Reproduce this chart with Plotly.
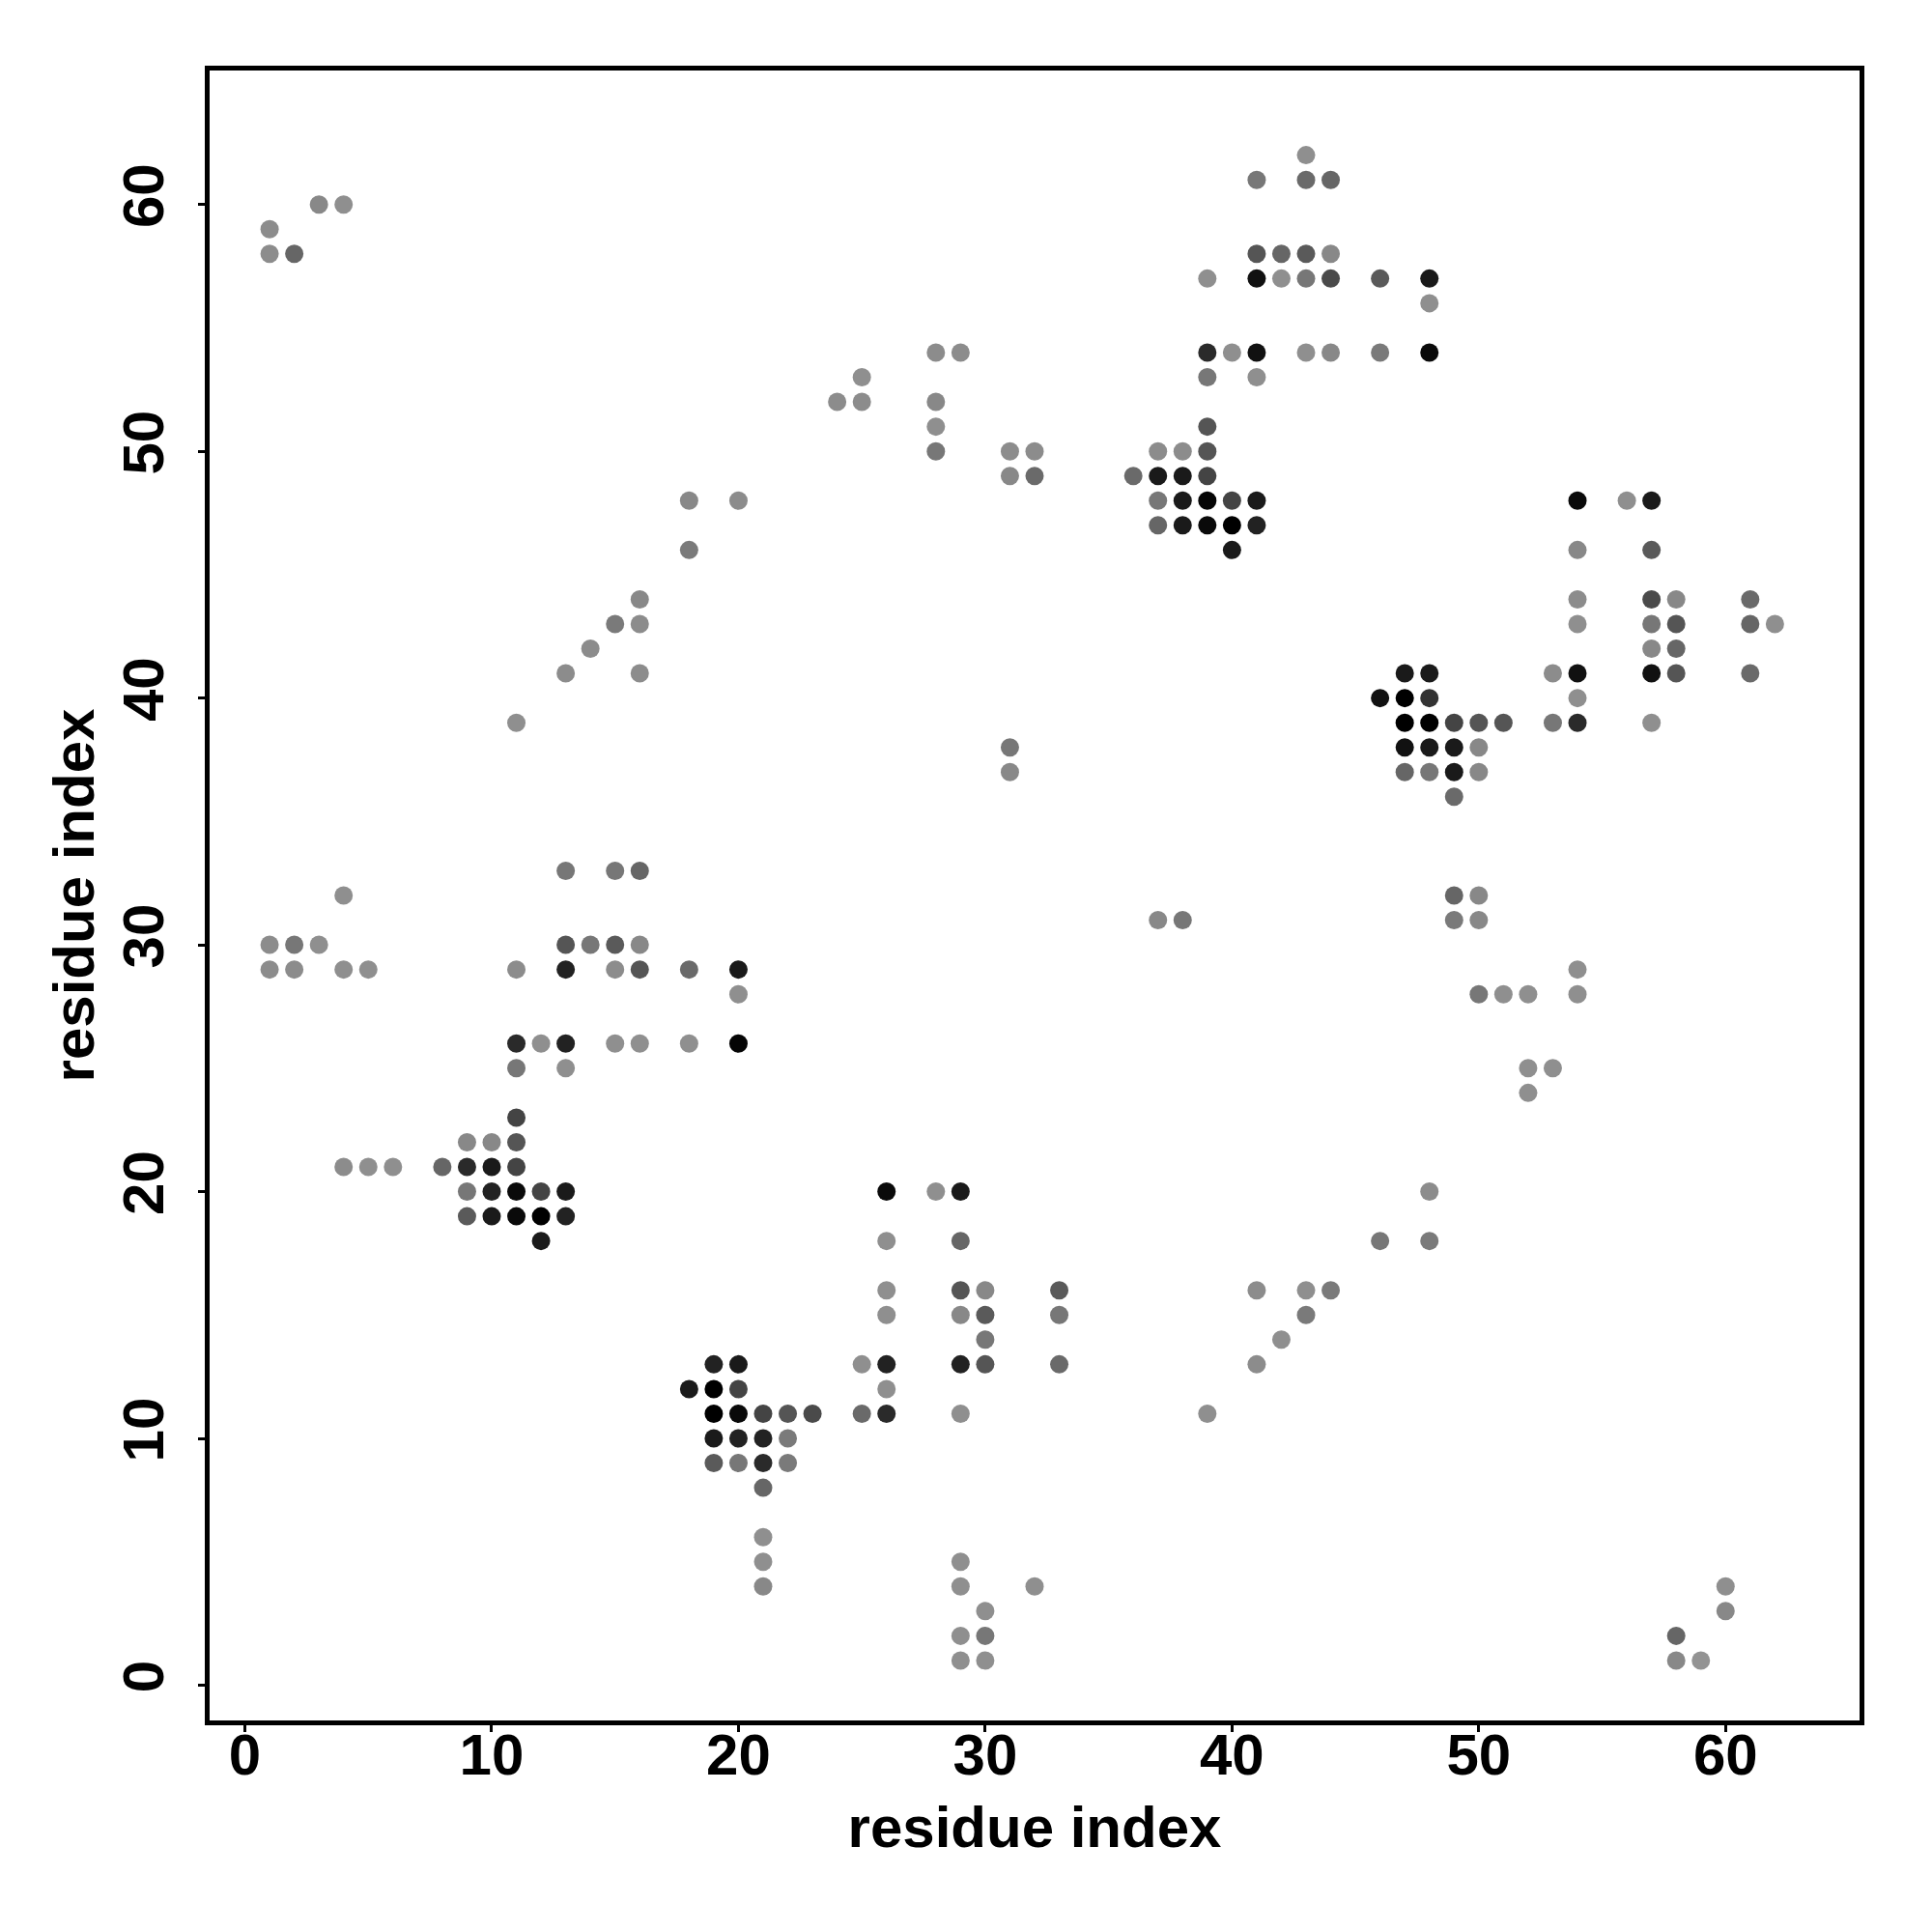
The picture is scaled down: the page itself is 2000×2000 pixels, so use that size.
import plotly.graph_objects as go

# residue contact map: (i, j) contact pairs and grey intensity (0 = black, 255 = white)
res_i = [
    1, 1, 2, 3, 4,
    18, 20, 18, 16, 15, 16, 14, 13, 16, 11,
    13, 15, 16, 4,
    1, 2, 3, 13, 14, 15, 16,
    1, 2, 4, 5, 11, 13, 15, 16, 18, 20,
    20,
    11, 12, 13, 15, 16, 18, 20,
    11, 13,
    11,
    9, 10, 11,
    4, 5, 6, 8, 9, 10, 11,
    9, 10, 11, 12, 13,
    9, 10, 11, 12, 13,
    12,
    19, 20,
    18, 19, 20,
    19, 20, 21, 22, 23, 25, 26, 29, 39,
    19, 20, 21, 22,
    19, 20, 21, 22,
    21,
    21, 21, 21,
    26, 28, 29,
    26, 29,
    26, 29, 30, 33, 41, 43, 44,
    26, 29, 30, 33, 43,
    30, 42,
    25, 26, 29, 30, 33, 41,
    26,
    29, 29, 32, 30, 29, 30, 29, 30,
    31, 31, 37, 38,
    46, 48, 48,
    60, 60, 58, 58, 59,
    43, 41, 43, 44,
    41, 42, 43, 44,
    39, 41, 42, 43, 44, 46, 48,
    48,
    39, 40, 41, 43, 44, 46, 48,
    39, 41,
    28, 29, 25, 24, 25, 28, 28, 39,
    28, 31, 32, 37, 38, 39,
    31, 32, 36, 37, 38, 39,
    37, 38, 39, 40, 41,
    37, 38, 39, 40, 41,
    40,
    54, 56, 57,
    54, 57,
    54, 57, 58, 61,
    54, 57, 58, 61, 62,
    57, 58,
    47, 48, 53, 54, 57, 58, 61,
    46, 47, 48, 54,
    47, 48, 49, 50, 51, 53, 54, 57,
    47, 48, 49, 50,
    47, 48, 49, 50,
    49,
    49, 50, 49, 50,
    54, 50, 51, 52, 54,
    52, 53, 52,
]

res_j = [
    59, 58, 58, 60, 60,
    48, 48, 46, 44, 43, 43, 42, 41, 41, 39,
    33, 33, 33, 32,
    30, 30, 30, 30, 30, 30, 30,
    29, 29, 29, 29, 29, 29, 29, 29, 29, 29,
    28,
    26, 26, 26, 26, 26, 26, 26,
    25, 25,
    23,
    22, 22, 22,
    21, 21, 21, 21, 21, 21, 21,
    20, 20, 20, 20, 20,
    19, 19, 19, 19, 19,
    18,
    13, 13,
    12, 12, 12,
    11, 11, 11, 11, 11, 11, 11, 11, 11,
    10, 10, 10, 10,
    9, 9, 9, 9,
    8,
    6, 5, 4,
    20, 20, 20,
    18, 18,
    16, 16, 16, 16, 16, 16, 16,
    15, 15, 15, 15, 15,
    14, 14,
    13, 13, 13, 13, 13, 13,
    12,
    5, 4, 4, 3, 2, 2, 1, 1,
    38, 37, 31, 31,
    18, 18, 20,
    4, 3, 2, 1, 1,
    62, 61, 61, 61,
    58, 58, 58, 58,
    57, 57, 57, 57, 57, 57, 57,
    56,
    54, 54, 54, 54, 54, 54, 54,
    53, 53,
    54, 54, 53, 52, 52, 52, 51, 51,
    50, 50, 50, 50, 50, 50,
    49, 49, 49, 49, 49, 49,
    48, 48, 48, 48, 48,
    47, 47, 47, 47, 47,
    46,
    48, 48, 48,
    46, 46,
    44, 44, 44, 44,
    43, 43, 43, 43, 43,
    42, 42,
    41, 41, 41, 41, 41, 41, 41,
    40, 40, 40, 40,
    39, 39, 39, 39, 39, 39, 39, 39,
    38, 38, 38, 38,
    37, 37, 37, 37,
    36,
    32, 32, 31, 31,
    29, 28, 28, 28, 28,
    25, 25, 24,
]

grey = [
    140, 140, 102, 136, 143,
    136, 140, 122, 136, 122, 140, 140, 140, 140, 143,
    119, 119, 102, 143,
    140, 119, 143, 85, 119, 90, 136,
    140, 140, 143, 143, 140, 34, 140, 85, 106, 26,
    143,
    42, 143, 34, 143, 143, 143, 5,
    119, 143,
    68,
    136, 136, 85,
    140, 143, 143, 102, 42, 26, 68,
    119, 34, 10, 68, 26,
    90, 26, 10, 0, 34,
    26,
    34, 26,
    26, 0, 68,
    0, 10, 68, 85, 74, 106, 42, 143, 143,
    26, 34, 34, 122,
    90, 119, 42, 122,
    102,
    143, 143, 136,
    10, 143, 26,
    143, 102,
    143, 85, 136, 90, 140, 143, 122,
    143, 136, 90, 119, 122,
    119, 143,
    143, 34, 34, 85, 106, 140,
    143,
    143, 143, 143, 143, 143, 119, 143, 143,
    119, 136, 136, 119,
    119, 122, 140,
    143, 136, 102, 136, 147,
    143, 119, 106, 102,
    85, 102, 90, 136,
    143, 17, 143, 119, 74, 90, 26,
    143,
    42, 143, 17, 143, 136, 122, 10,
    119, 143,
    140, 140, 143, 140, 140, 136, 143, 85,
    119, 140, 140, 140, 140, 85,
    136, 106, 106, 26, 26, 68,
    119, 26, 5, 68, 26,
    102, 26, 10, 0, 34,
    26,
    10, 143, 26,
    136, 90,
    140, 74, 136, 106,
    143, 119, 85, 102, 143,
    136, 102,
    26, 26, 140, 17, 17, 85, 106,
    17, 0, 51, 143,
    0, 0, 68, 85, 85, 119, 42, 143,
    17, 26, 26, 136,
    102, 119, 26, 136,
    106,
    102, 136, 122, 136,
    143, 119, 143, 143, 143,
    143, 143, 143,
]

tick_vals = [0, 10, 20, 30, 40, 50, 60]
tick_text = ["0", "10", "20", "30", "40", "50", "60"]

colors = [f"rgb({g},{g},{g})" for g in grey]

fig = go.Figure(
    go.Scatter(
        x=res_i,
        y=res_j,
        mode="markers",
        marker=dict(size=19, color=colors, line=dict(width=0)),
        hoverinfo="x+y",
    )
)

font_family = "Liberation Sans, Arial, Helvetica, sans-serif"

axis_common = dict(
    range=[-1.43, 65.43],
    tickmode="array",
    tickvals=tick_vals,
    ticktext=tick_text,
    ticks="outside",
    ticklen=7,
    tickwidth=3,
    tickcolor="black",
    showline=True,
    linecolor="black",
    linewidth=5,
    mirror=True,
    showgrid=False,
    zeroline=False,
    tickfont=dict(family=font_family, size=60, color="black", weight="bold"),
)

fig.update_xaxes(
    **axis_common,
    ticklabelstandoff=-28,
    title=dict(text="<b>residue index</b>", font=dict(family=font_family, size=60, color="black"), standoff=22),
)
fig.update_yaxes(
    **axis_common,
    tickangle=-90,
    ticklabelstandoff=12,
    title=dict(text="<b>residue index</b>", font=dict(family=font_family, size=60, color="black"), standoff=0),
)

fig.update_layout(
    width=2000,
    height=2000,
    autosize=False,
    margin=dict(l=209, r=83, t=65, b=227),
    plot_bgcolor="white",
    paper_bgcolor="white",
    showlegend=False,
)

fig.write_html("out.html")
